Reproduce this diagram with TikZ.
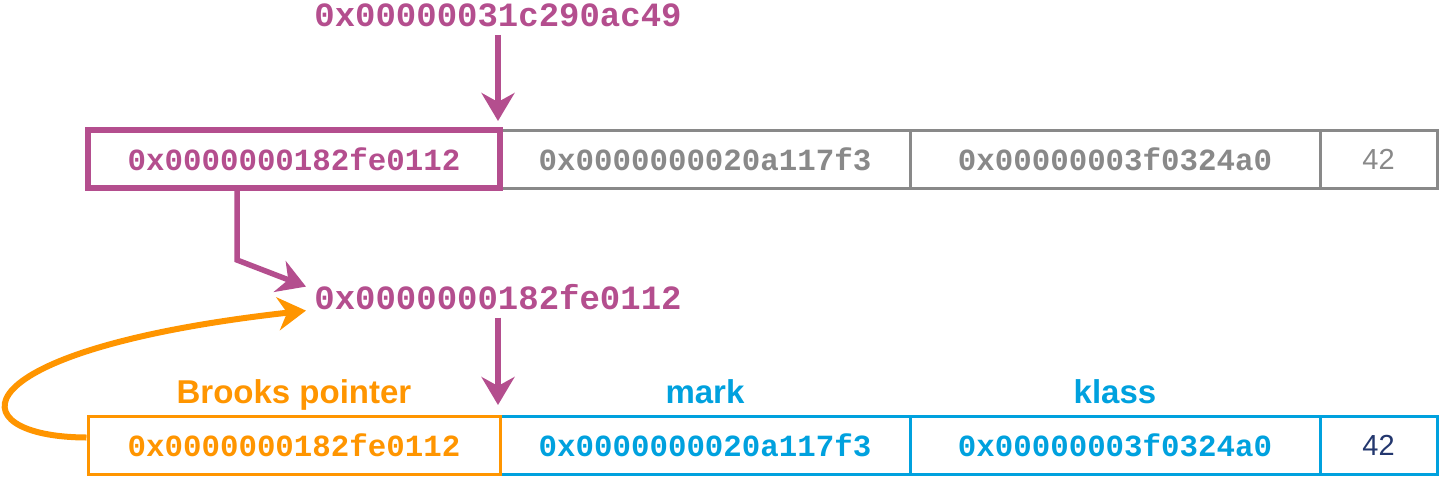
\documentclass[tikz,border=0pt]{standalone}
\usepackage{fontspec}
\usetikzlibrary{arrows.meta}
\newfontfamily\hexfont{Liberation Mono}
\newfontfamily\tagfont{Liberation Sans}
\definecolor{ptrmagenta}{RGB}{180,78,142}
\definecolor{cellgray}{RGB}{137,137,137}
\definecolor{brooksorange}{RGB}{255,149,0}
\definecolor{objblue}{RGB}{0,161,222}
\definecolor{numnavy}{RGB}{35,55,110}
\tikzset{
  cell/.style={draw=#1,text=#1,line width=1.5pt,minimum height=29pt,inner sep=0pt,font=\hexfont\bfseries\fontsize{15.4}{18}\selectfont},
  numcell/.style={cell=#1,font=\tagfont\fontsize{14.5}{17}\selectfont},
  hexlabel/.style={text=ptrmagenta,inner sep=4pt,anchor=base,font=\hexfont\bfseries\fontsize{17}{20}\selectfont},
  fieldlabel/.style={text=#1,inner sep=0pt,anchor=base,font=\tagfont\bfseries\fontsize{16.5}{19}\selectfont},
  ptr/.style={draw=ptrmagenta,line width=2.75pt,-{Stealth[length=14pt,width=16.5pt,inset=4.5pt]}},
  fwdptr/.style={draw=brooksorange,line width=3pt,-{Stealth[length=14pt,width=16.5pt,inset=4.5pt]}}
}

\begin{document}
\begin{tikzpicture}[x=0.5pt,y=-0.5pt]
\useasboundingbox (0,0) rectangle (1440,477);
\node[cell=cellgray,minimum width=205pt] (t2) at (705,159) {0x0000000020a117f3};
\node[cell=cellgray,minimum width=205pt] (t3) at (1115,159) {0x00000003f0324a0};
\node[numcell=cellgray,minimum width=58.5pt] (t4) at (1378.5,159) {42};
\node[cell=ptrmagenta,line width=3pt,minimum width=206pt] (t1) at (294,159) {0x0000000182fe0112};
\node[cell=objblue,minimum width=205pt] (b2) at (705,445.5) {0x0000000020a117f3};
\node[cell=objblue,minimum width=205pt] (b3) at (1115,445.5) {0x00000003f0324a0};
\node[numcell=objblue,text=numnavy,minimum width=58.5pt] (b4) at (1378.5,445.5) {42};
\node[cell=brooksorange,minimum width=206pt] (b1) at (294,445.5) {0x0000000182fe0112};
\node[fieldlabel=brooksorange] (brooks) at ([yshift=6pt]b1.north) {Brooks pointer};
\node[fieldlabel=objblue] (mark) at ([yshift=6pt]b2.north) {mark};
\node[fieldlabel=objblue] (klass) at ([yshift=6pt]b3.north) {klass};
\node[hexlabel] (oldaddr) at (498,26) {0x00000031c290ac49};
\node[hexlabel] (fwdaddr) at (498,309) {0x0000000182fe0112};
\coordinate (bend) at (237,260);
\draw[ptr,shorten >=3pt] (oldaddr.south) -- (oldaddr.south |- t1.north);
\draw[ptr] (t1.south -| bend) -- (bend) -- ([yshift=5pt]fwdaddr.west);
\draw[ptr,shorten >=5pt] (fwdaddr.south) -- (fwdaddr.south |- b1.north);
\draw[fwdptr] ([yshift=4pt]b1.west) .. controls (-45,437) and (-45,350) .. ([yshift=-7pt]fwdaddr.west);
\end{tikzpicture}
\end{document}
